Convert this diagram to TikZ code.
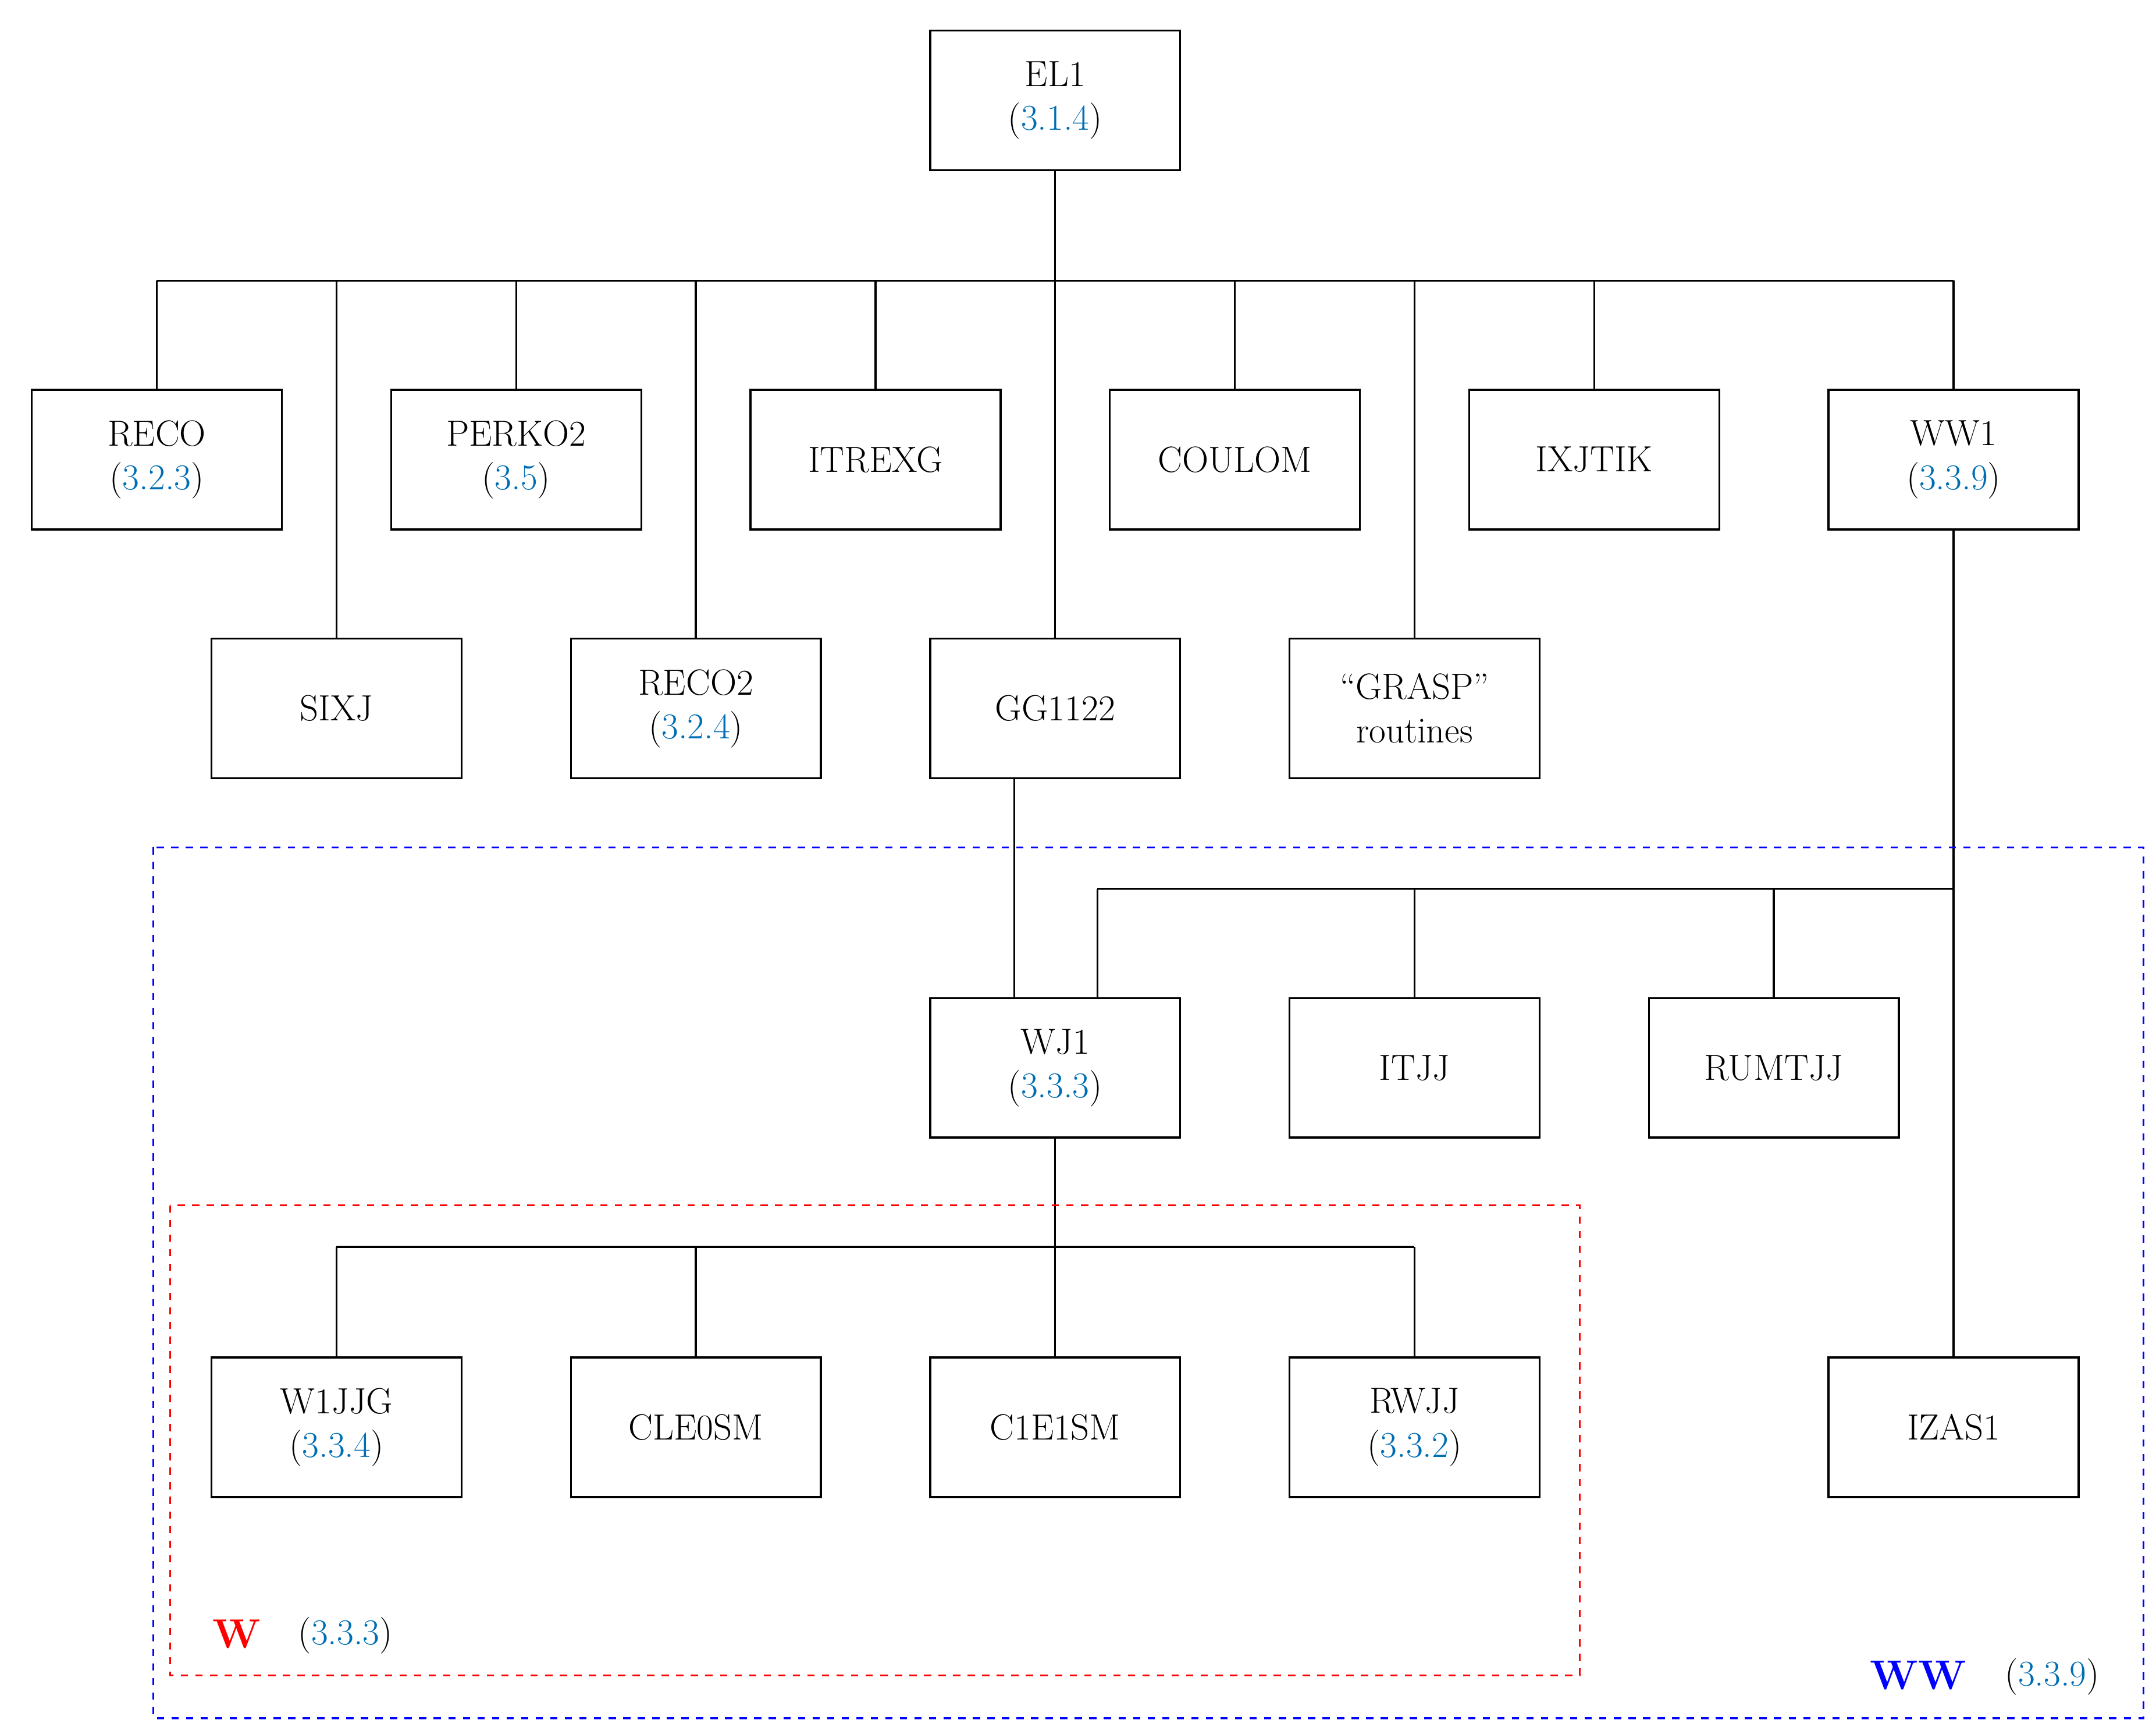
\documentclass[tikz,border=0pt]{standalone}
\usepackage{xcolor}
\definecolor{lnk}{RGB}{0,110,180}
\begin{document}
\begin{tikzpicture}[x=0.02cm,y=-0.02cm,
  box/.style={draw,line width=0.8pt,minimum width=3.62cm,minimum height=2.02cm,align=center,inner sep=0pt,font=\fontsize{15}{18}\selectfont},
  ln/.style={line width=0.8pt},
  grp/.style={dashed,line width=0.8pt}]
\useasboundingbox (0,0) rectangle (1560,1252);
\newcommand\rf[1]{(\textcolor{lnk}{#1})}
\node[box] (el1) at (763.5,72.5) {EL1\\\rf{3.1.4}};
\node[box] (reco) at (113.5,332.5) {RECO\\\rf{3.2.3}};
\node[box] (perko) at (373.5,332.5) {PERKO2\\\rf{3.5}};
\node[box] (itrexg) at (633.5,332.5) {ITREXG};
\node[box] (coulom) at (893.5,332.5) {COULOM};
\node[box] (ixjtik) at (1153.5,332.5) {IXJTIK};
\node[box] (ww1) at (1413.5,332.5) {WW1\\\rf{3.3.9}};
\node[box] (sixj) at (243.5,512.5) {SIXJ};
\node[box] (reco2) at (503.5,512.5) {RECO2\\\rf{3.2.4}};
\node[box] (gg) at (763.5,512.5) {GG1122};
\node[box] (grasp) at (1023.5,512.5) {``GRASP''\\routines};
\node[box] (wj1) at (763.5,772.5) {WJ1\\\rf{3.3.3}};
\node[box] (itjj) at (1023.5,772.5) {ITJJ};
\node[box] (rum) at (1283.5,772.5) {RUMTJJ};
\node[box] (w1jjg) at (243.5,1032.5) {W1JJG\\\rf{3.3.4}};
\node[box] (cle) at (503.5,1032.5) {CLE0SM};
\node[box] (c1e) at (763.5,1032.5) {C1E1SM};
\node[box] (rwjj) at (1023.5,1032.5) {RWJJ\\\rf{3.3.2}};
\node[box] (izas) at (1413.5,1032.5) {IZAS1};
\coordinate (b1) at (763.5,203);
\draw[ln] (el1.south) -- (b1);
\draw[ln] (113.5,203) -- (1413.5,203);
\foreach \n in {reco,perko,itrexg,coulom,ixjtik,ww1} \draw[ln] (\n.north) -- (\n.north|-b1);
\foreach \n in {sixj,reco2,gg,grasp} \draw[ln] (\n.north) -- (\n.north|-b1);
\draw[ln] (ww1.south) -- (izas.north);
\draw[ln] (794,643) -- (1413.5,643);
\draw[ln] (794,722) -- (794,643);
\draw[ln] (itjj.north) -- (1023.5,643);
\draw[ln] (rum.north) -- (1283.5,643);
\draw[ln] (734,563) -- (734,722);
\draw[ln] (wj1.south) -- (c1e.north);
\draw[ln] (243.5,902) -- (1023.5,902);
\foreach \n in {w1jjg,cle,rwjj} \draw[ln] (\n.north) -- (\n.north|-0,902);
\draw[grp,red] (123,872) rectangle (1143,1212);
\draw[grp,blue] (111,613) rectangle (1551,1243);
\node[font=\fontsize{17}{20}\selectfont\bfseries,text=red] (wl) at (171,1182) {W};
\node[font=\fontsize{15}{18}\selectfont] (wr) at (250,1183) {\rf{3.3.3}};
\node[font=\fontsize{17}{20}\selectfont\bfseries,text=blue] (wwl) at (1388,1212) {WW};
\node[font=\fontsize{15}{18}\selectfont] (wwr) at (1485,1213) {\rf{3.3.9}};
\end{tikzpicture}
\end{document}
